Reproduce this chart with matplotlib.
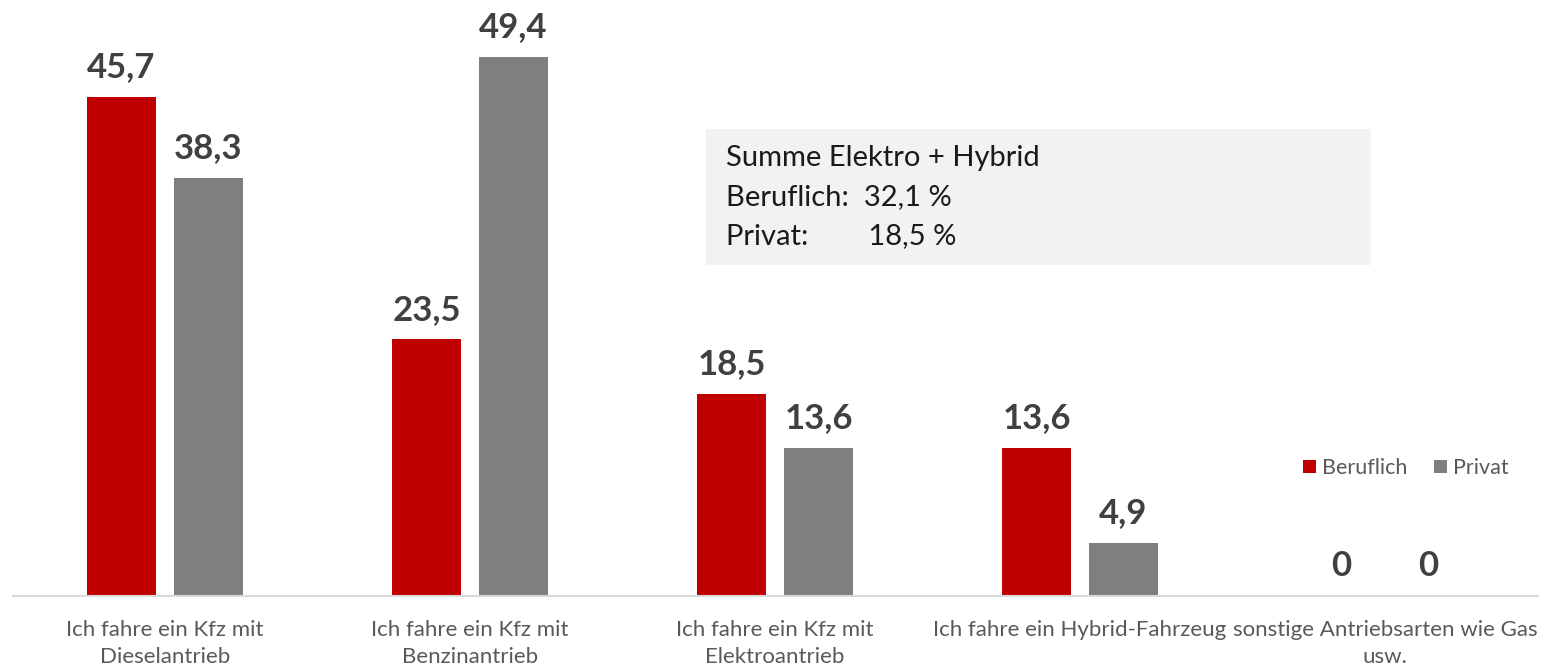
import matplotlib
matplotlib.use("Agg")
import matplotlib.pyplot as plt
from matplotlib.patches import Rectangle
import numpy as np

categories = ["Ich fahre ein Kfz mit\nDieselantrieb",
              "Ich fahre ein Kfz mit\nBenzinantrieb",
              "Ich fahre ein Kfz mit\nElektroantrieb",
              "Ich fahre ein Hybrid-Fahrzeug",
              "sonstige Antriebsarten wie Gas\nusw."]
beruflich = [45.7, 23.5, 18.5, 13.6, 0]
privat = [38.3, 49.4, 13.6, 4.9, 0]
series_names = ["Beruflich", "Privat"]

RED = "#c00000"
GRAY = "#7f7f7f"
FONT = "Lato"

fig = plt.figure(figsize=(15.41, 6.66), dpi=100)
ax = fig.add_axes([12.5/1541, (666-596)/666, 1525/1541, 596/666])

x = np.arange(len(categories))
w = 0.223
off = 0.1426
b1 = ax.bar(x - off, beruflich, w, color=RED, label=series_names[0])
b2 = ax.bar(x + off, privat, w, color=GRAY, label=series_names[1])

ax.set_xlim(-0.5, len(categories) - 0.5)
ax.set_ylim(0, 54.6)

def fmt(v):
    return "0" if v == 0 else f"{v:.1f}".replace(".", ",")

for bars, vals in ((b1, beruflich), (b2, privat)):
    for r, v in zip(bars, vals):
        ax.annotate(fmt(v), (r.get_x() + r.get_width()/2, v),
                    xytext=(0, 10), textcoords="offset points",
                    ha="center", va="bottom", fontsize=25, fontweight="bold",
                    color="#404040", family=FONT)

for s in ("top", "right", "left"):
    ax.spines[s].set_visible(False)
ax.spines["bottom"].set_color("#d9d9d9")
ax.spines["bottom"].set_linewidth(1.5)
ax.set_yticks([])
ax.set_xticks(x)
ax.set_xticklabels(categories, fontsize=16, color="#595959", family=FONT,
                   linespacing=1.45)
ax.tick_params(axis="x", length=0, pad=17)

# annotation box
fig.patches.append(Rectangle((706/1541, 1 - 265/666), 665/1541, 136/666,
                             transform=fig.transFigure, facecolor="#f2f2f2",
                             edgecolor="none", zorder=0))
box_lines = ["Summe Elektro + Hybrid", "Beruflich:  32,1 %", "Privat:        18,5 %"]
for i, t in enumerate(box_lines):
    fig.text(726/1541, 1 - (158 + 39*i)/666, t, fontsize=21, color="#1a1a1a",
             family=FONT, va="center", ha="left")

leg = ax.legend(loc="center left", bbox_to_anchor=((1303 - 12.5)/1525, (596-468)/596),
                bbox_transform=ax.transAxes, frameon=False, ncol=2,
                prop={"family": FONT, "size": 15.5}, handlelength=0.6, handleheight=0.6,
                handletextpad=0.3, columnspacing=1.2, borderaxespad=0, borderpad=0)
for t in leg.get_texts():
    t.set_color("#595959")

fig.savefig("out.png", dpi=100)
